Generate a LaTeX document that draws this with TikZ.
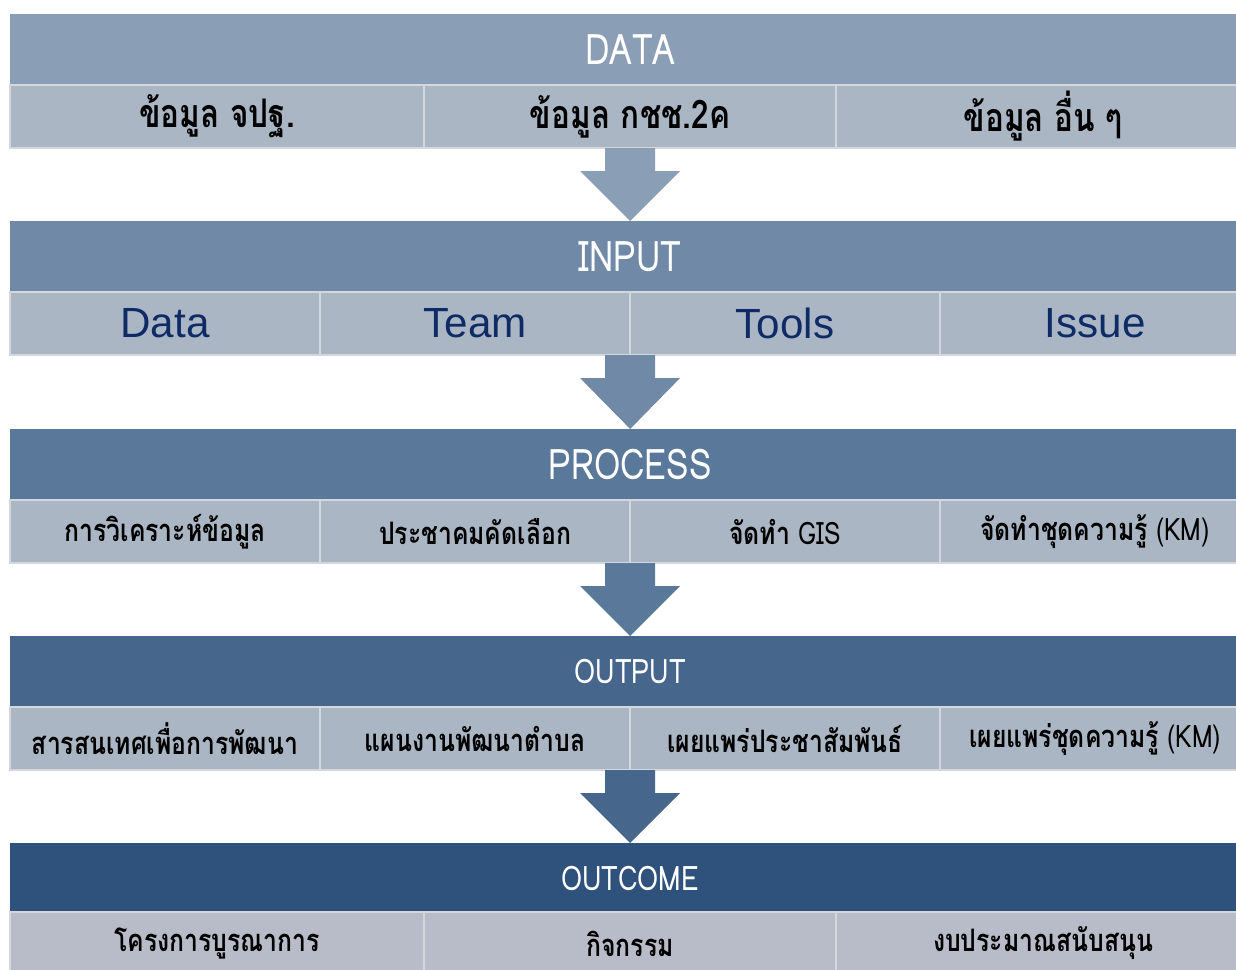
\documentclass[tikz,border=0pt]{standalone}
\usepackage{fontspec}
\setmainfont{Liberation Sans}
\newfontfamily\thai[Script=Thai,FakeStretch=0.8]{Loma}
\usetikzlibrary{calc}
\definecolor{cData}{HTML}{8A9EB5}
\definecolor{cInput}{HTML}{7089A7}
\definecolor{cProc}{HTML}{5A7899}
\definecolor{cOut}{HTML}{46668B}
\definecolor{cOutc}{HTML}{2E527C}
\definecolor{cCell}{HTML}{AAB6C4}
\definecolor{cCellB}{HTML}{B7BCC8}
\definecolor{cLine}{HTML}{D4D7DC}
\definecolor{cNavy}{HTML}{0F2B66}
\newcommand\flowarrow[3]{%
  \fill[#1] ($(#2)+(-25,0)$) -- ($(#2)+(25,0)$) -- ($(#2)+(25,23)$) -- ($(#2)+(50,23)$)
   -- (#3) -- ($(#2)+(-50,23)$) -- ($(#2)+(-25,23)$) -- cycle;}
\begin{document}
\begin{tikzpicture}[x=0.025cm,y=-0.025cm,
  bar/.style={anchor=north west, inner sep=0pt, outer sep=0pt, minimum width=31cm,
    minimum height=1.775cm, text=white, font=\thai\fontsize{30}{30}\selectfont},
  smallbar/.style={bar, font=\thai\fontsize{24}{24}\selectfont},
  cell/.style={anchor=north west, inner sep=0pt, outer sep=0pt, minimum height=1.575cm,
    fill=cCell, draw=cLine, line width=1.4pt, text=black,
    font=\thai\bfseries\fontsize{22}{22}\selectfont},
  wide/.style={cell, minimum width=10.35cm},
  mid/.style={cell, minimum width=10.3cm},
  quarter/.style={cell, minimum width=7.75cm},
  bigthai/.style={font=\thai\bfseries\fontsize{28}{28}\selectfont},
  eng/.style={text=cNavy, font=\fontsize{30}{30}\selectfont}]
\useasboundingbox (0,0) rectangle (1236,969);
\clip (0,0) rectangle (1236,969);
% DATA
\node[bar, fill=cData] (dbar) at (10,14) {DATA};
\node[wide, bigthai] (d1) at (10,85) {ข้อมูล จปฐ.};
\node[mid, bigthai] (d2) at (424,85) {ข้อมูล กชช.2ค};
\node[wide, bigthai] (d3) at (836,85) {ข้อมูล อื่น ๆ};
% INPUT
\node[bar, fill=cInput] (ibar) at (10,221) {INPUT};
\node[quarter, eng] (i1) at (10,292) {Data};
\node[quarter, eng] (i2) at (320,292) {Team};
\node[quarter, eng] (i3) at (630,292) {Tools};
\node[quarter, eng] (i4) at (940,292) {Issue};
% PROCESS
\node[bar, fill=cProc] (pbar) at (10,429) {PROCESS};
\node[quarter] (p1) at (10,500) {การวิเคราะห์ข้อมูล};
\node[quarter] (p2) at (320,500) {ประชาคมคัดเลือก};
\node[quarter] (p3) at (630,500) {จัดทำ {\mdseries GIS}};
\node[quarter] (p4) at (940,500) {จัดทำชุดความรู้ {\mdseries (KM)}};
% OUTPUT
\node[smallbar, fill=cOut] (obar) at (10,636) {OUTPUT};
\node[quarter] (o1) at (10,707) {สารสนเทศเพื่อการพัฒนา};
\node[quarter] (o2) at (320,707) {แผนงานพัฒนาตำบล};
\node[quarter] (o3) at (630,707) {เผยแพร่ประชาสัมพันธ์};
\node[quarter] (o4) at (940,707) {เผยแพร่ชุดความรู้ {\mdseries (KM)}};
% OUTCOME
\node[smallbar, fill=cOutc] (cbar) at (10,843) {OUTCOME};
\node[wide, fill=cCellB] (c1) at (10,912) {โครงการบูรณาการ};
\node[mid, fill=cCellB] (c2) at (424,912) {กิจกรรม};
\node[wide, fill=cCellB] (c3) at (836,912) {งบประมาณสนับสนุน};
% arrows
\flowarrow{cData}{d2.south}{ibar.north}
\flowarrow{cInput}{i2.south east}{pbar.north}
\flowarrow{cProc}{p2.south east}{obar.north}
\flowarrow{cOut}{o2.south east}{cbar.north}
\end{tikzpicture}
\end{document}
